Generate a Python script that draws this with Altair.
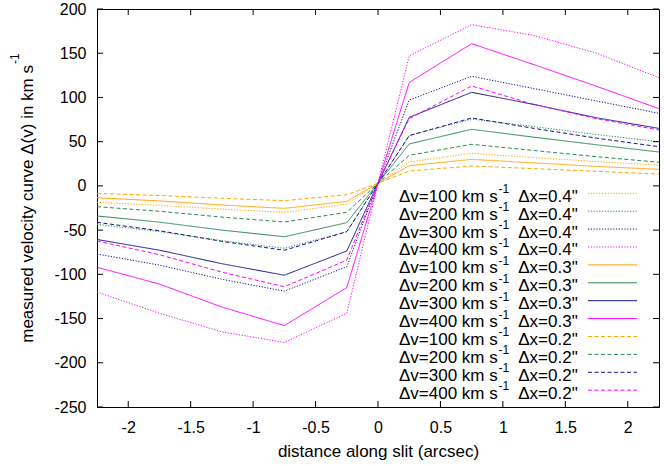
import altair as alt
import pandas as pd

# ---- data ----
x_pos = [-2.25, -1.75, -1.25, -0.75, -0.25, 0.0, 0.25, 0.75, 1.25, 1.75, 2.25]

dx04_v100 = [-18.6, -22.0, -26.3, -29.9, -20.5, 3, 27.0, 36.8, 32.0, 27.5, 23.3]
dx04_v200 = [-43.5, -51.6, -62.0, -70.6, -51.8, 3, 57.0, 75.6, 67.0, 58.0, 50.0]
dx04_v300 = [-77.0, -89.6, -105.6, -119.0, -91.4, 3, 97.0, 123.9, 110.0, 96.0, 82.0]
dx04_v400 = [-120.0, -144.0, -165.0, -177.0, -144.0, 3, 147.0, 182.3, 170.0, 150.0, 122.3]

dx03_v100 = [-13.4, -17.0, -21.6, -25.4, -17.5, 3, 22.8, 30.0, 26.0, 22.0, 18.7]
dx03_v200 = [-34.0, -41.0, -50.0, -57.5, -41.6, 3, 47.4, 64.0, 55.0, 46.5, 38.3]
dx03_v300 = [-60.6, -72.7, -88.0, -101.0, -73.6, 3, 77.5, 105.8, 92.0, 77.0, 65.0]
dx03_v400 = [-92.0, -111.0, -137.0, -158.0, -115.0, 3, 117.0, 160.8, 137.0, 112.6, 87.3]

dx02_v100 = [-8.4, -10.9, -14.0, -16.7, -10.0, 3, 16.8, 22.5, 19.5, 16.5, 13.4]
dx02_v200 = [-23.5, -28.7, -35.3, -40.8, -29.9, 3, 34.6, 47.0, 40.0, 33.0, 26.7]
dx02_v300 = [-41.2, -50.7, -62.7, -72.8, -51.8, 3, 56.8, 76.8, 65.0, 54.0, 44.3]
dx02_v400 = [-62.3, -77.8, -97.5, -114.0, -84.0, 3, 76.0, 113.0, 92.0, 76.0, 63.2]

dv_labels = ["100", "200", "300", "400"]
dx_labels = ["0.4", "0.3", "0.2"]
series_values = {
    "0.4": [dx04_v100, dx04_v200, dx04_v300, dx04_v400],
    "0.3": [dx03_v100, dx03_v200, dx03_v300, dx03_v400],
    "0.2": [dx02_v100, dx02_v200, dx02_v300, dx02_v400],
}
x_ticks = [-2, -1.5, -1, -0.5, 0, 0.5, 1, 1.5, 2]
y_ticks = [-250, -200, -150, -100, -50, 0, 50, 100, 150, 200]

# ---- styles ----
FONT = "Liberation Sans"
colors = {"100": "#ffa500", "200": "#2a8a55", "300": "#14148c", "400": "#ff00ff"}
dashes = {"0.4": [1.2, 1.6], "0.3": [1, 0], "0.2": [4, 2.5]}
W, H = 562, 398

rows = []
for dx in dx_labels:
    for dv, vals in zip(dv_labels, series_values[dx]):
        for xv, yv in zip(x_pos, vals):
            rows.append({"x": xv, "v": yv, "dv": dv, "dx": dx, "key": dv + "_" + dx})
df = pd.DataFrame(rows)

xscale = alt.Scale(domain=[-2.25, 2.25], nice=False, zero=False)
yscale = alt.Scale(domain=[-250, 200], nice=False, zero=False)

xaxis = alt.Axis(values=x_ticks, tickSize=0, domain=False, grid=False,
                 labelFont=FONT, labelFontSize=16, labelColor="black",
                 labelPadding=12, labelFlush=False, labelOverlap=False,
                 labelExpr="'' + datum.value",
                 title="distance along slit (arcsec)", titleFont=FONT,
                 titleFontSize=17, titleFontWeight="normal", titleColor="black",
                 titlePadding=8)
yaxis = alt.Axis(values=y_ticks, tickSize=0, domain=False, grid=False,
                 labelFont=FONT, labelFontSize=16, labelColor="black",
                 labelPadding=11, labelFlush=False, labelOverlap=False,
                 labelExpr="'' + datum.value", title=None)

layers = []
for dx in dx_labels:
    sub = df[df["dx"] == dx]
    layers.append(
        alt.Chart(sub).mark_line(strokeWidth=1, strokeDash=dashes[dx], clip=True).encode(
            x=alt.X("x:Q", scale=xscale, axis=xaxis),
            y=alt.Y("v:Q", scale=yscale, axis=yaxis),
            color=alt.Color("dv:N", scale=alt.Scale(domain=dv_labels,
                                                    range=[colors[d] for d in dv_labels]),
                            legend=None),
            detail="key:N",
        )
    )

# inward ticks on all four sides
xt = pd.DataFrame({"t": x_ticks})
yt = pd.DataFrame({"t": y_ticks})
TL = 6
layers.append(alt.Chart(xt).mark_rule(color="black", strokeWidth=1).encode(
    x=alt.X("t:Q", scale=xscale, axis=xaxis), y=alt.value(H), y2=alt.value(H - TL)))
layers.append(alt.Chart(xt).mark_rule(color="black", strokeWidth=1).encode(
    x=alt.X("t:Q", scale=xscale, axis=xaxis), y=alt.value(0), y2=alt.value(TL)))
layers.append(alt.Chart(yt).mark_rule(color="black", strokeWidth=1).encode(
    y=alt.Y("t:Q", scale=yscale, axis=yaxis), x=alt.value(0), x2=alt.value(TL)))
layers.append(alt.Chart(yt).mark_rule(color="black", strokeWidth=1).encode(
    y=alt.Y("t:Q", scale=yscale, axis=yaxis), x=alt.value(W), x2=alt.value(W - TL)))

# y-axis title with superscript
one = pd.DataFrame({"a": [0]})
layers.append(alt.Chart(one).mark_text(
    text="measured velocity curve \u0394(v) in km s", angle=270, align="right",
    baseline="alphabetic", font=FONT, fontSize=17, color="black").encode(
    x=alt.value(-64.5), y=alt.value(56)))
layers.append(alt.Chart(one).mark_text(
    text="-1", angle=270, align="left", baseline="alphabetic", font=FONT,
    fontSize=12, color="black").encode(x=alt.value(-78), y=alt.value(55)))

# custom key
i = 0
for dx in dx_labels:
    for dv in dv_labels:
        by = 192.7 + 17.9 * i
        layers.append(alt.Chart(one).mark_text(
            text="\u0394v=" + dv + " km s", align="right", baseline="alphabetic",
            font=FONT, fontSize=17, color="black").encode(
            x=alt.value(400.7), y=alt.value(by)))
        layers.append(alt.Chart(one).mark_text(
            text="-1", align="left", baseline="alphabetic",
            font=FONT, fontSize=12, color="black").encode(
            x=alt.value(401.5), y=alt.value(by - 8.5)))
        layers.append(alt.Chart(one).mark_text(
            text="\u0394x=" + dx + "\"", align="right", baseline="alphabetic",
            font=FONT, fontSize=17, color="black").encode(
            x=alt.value(480.7), y=alt.value(by)))
        layers.append(alt.Chart(one).mark_rule(
            color=colors[dv], strokeWidth=1, strokeDash=dashes[dx]).encode(
            x=alt.value(491), x2=alt.value(540), y=alt.value(by - 8.4)))
        i += 1

chart = alt.layer(*layers).properties(
    width=W, height=H,
    background="white",
    autosize=alt.AutoSizeParams(type="none"),
    padding={"left": 97, "top": 9, "right": 5, "bottom": 59},
).configure_view(stroke="black", strokeWidth=1)

chart.save("out.html", embed_options={"renderer": "svg", "actions": False})
